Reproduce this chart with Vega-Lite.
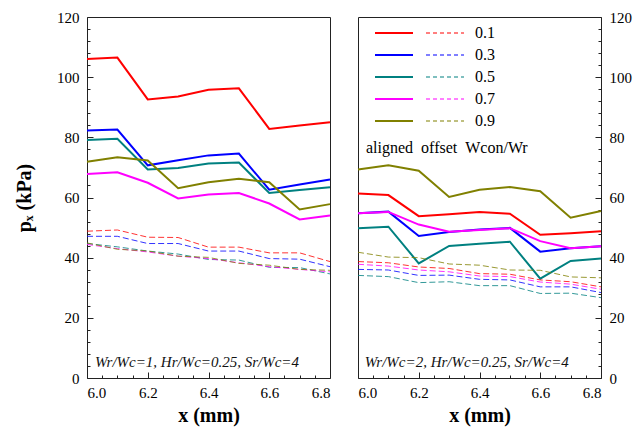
{
"$schema": "https://vega.github.io/schema/vega-lite/v6.json",
"padding": {"left": 14, "top": 9, "right": 5, "bottom": 5},
"background": "white",
"config": {
  "font": "Liberation Serif, Times New Roman, serif",
  "view": {"stroke": "#222", "strokeWidth": 1},
  "text": {"font": "Liberation Serif, Times New Roman, serif"},
  "axis": {"grid": false, "domain": false, "labelFont": "Liberation Serif, Times New Roman, serif", "labelFontSize": 15, "labelColor": "black", "tickColor": "#222", "titleFont": "Liberation Serif, Times New Roman, serif", "titleFontSize": 20, "titleFontWeight": "bold", "titleColor": "black"},
  "legend": {"orient": "none", "legendX": 279, "legendY": 8, "direction": "vertical", "titleOrient": "bottom", "titleAnchor": "start", "titleFont": "Liberation Serif, Times New Roman, serif", "titleFontSize": 16, "titleFontWeight": "normal", "titleColor": "black", "titlePadding": 11, "titleLimit": 300, "labelFont": "Liberation Serif, Times New Roman, serif", "labelFontSize": 16, "labelColor": "black", "labelOffset": 92, "symbolOffset": 1, "symbolSize": 4, "symbolStrokeWidth": 0, "symbolType": "M0,-1H38V1H0Z M51,-0.5H55V0.5H51Z M58,-0.5H62V0.5H58Z M65,-0.5H69V0.5H65Z M72,-0.5H76V0.5H72Z M79,-0.5H83V0.5H79Z M86,-0.5H89V0.5H86Z", "rowPadding": 6}
},
"datasets": {"main": [
{"g":"L","t":"a","w":"0.1","x":6.0,"p":106.0},{"g":"L","t":"a","w":"0.1","x":6.1,"p":106.5},{"g":"L","t":"a","w":"0.1","x":6.2,"p":92.6},{"g":"L","t":"a","w":"0.1","x":6.3,"p":93.6},{"g":"L","t":"a","w":"0.1","x":6.4,"p":95.8},{"g":"L","t":"a","w":"0.1","x":6.5,"p":96.3},{"g":"L","t":"a","w":"0.1","x":6.6,"p":82.8},{"g":"L","t":"a","w":"0.1","x":6.7,"p":83.9},{"g":"L","t":"a","w":"0.1","x":6.8,"p":85.0},
{"g":"L","t":"a","w":"0.3","x":6.0,"p":82.3},{"g":"L","t":"a","w":"0.3","x":6.1,"p":82.6},{"g":"L","t":"a","w":"0.3","x":6.2,"p":70.7},{"g":"L","t":"a","w":"0.3","x":6.3,"p":72.4},{"g":"L","t":"a","w":"0.3","x":6.4,"p":74.0},{"g":"L","t":"a","w":"0.3","x":6.5,"p":74.6},{"g":"L","t":"a","w":"0.3","x":6.6,"p":62.6},{"g":"L","t":"a","w":"0.3","x":6.7,"p":64.3},{"g":"L","t":"a","w":"0.3","x":6.8,"p":66.0},
{"g":"L","t":"a","w":"0.5","x":6.0,"p":79.1},{"g":"L","t":"a","w":"0.5","x":6.1,"p":79.5},{"g":"L","t":"a","w":"0.5","x":6.2,"p":69.3},{"g":"L","t":"a","w":"0.5","x":6.3,"p":69.8},{"g":"L","t":"a","w":"0.5","x":6.4,"p":71.3},{"g":"L","t":"a","w":"0.5","x":6.5,"p":71.6},{"g":"L","t":"a","w":"0.5","x":6.6,"p":61.5},{"g":"L","t":"a","w":"0.5","x":6.7,"p":62.5},{"g":"L","t":"a","w":"0.5","x":6.8,"p":63.4},
{"g":"L","t":"a","w":"0.7","x":6.0,"p":67.8},{"g":"L","t":"a","w":"0.7","x":6.1,"p":68.4},{"g":"L","t":"a","w":"0.7","x":6.2,"p":64.9},{"g":"L","t":"a","w":"0.7","x":6.3,"p":59.7},{"g":"L","t":"a","w":"0.7","x":6.4,"p":61.0},{"g":"L","t":"a","w":"0.7","x":6.5,"p":61.5},{"g":"L","t":"a","w":"0.7","x":6.6,"p":58.0},{"g":"L","t":"a","w":"0.7","x":6.7,"p":52.7},{"g":"L","t":"a","w":"0.7","x":6.8,"p":54.0},
{"g":"L","t":"a","w":"0.9","x":6.0,"p":71.9},{"g":"L","t":"a","w":"0.9","x":6.1,"p":73.4},{"g":"L","t":"a","w":"0.9","x":6.2,"p":72.3},{"g":"L","t":"a","w":"0.9","x":6.3,"p":63.1},{"g":"L","t":"a","w":"0.9","x":6.4,"p":65.1},{"g":"L","t":"a","w":"0.9","x":6.5,"p":66.2},{"g":"L","t":"a","w":"0.9","x":6.6,"p":65.1},{"g":"L","t":"a","w":"0.9","x":6.7,"p":56.0},{"g":"L","t":"a","w":"0.9","x":6.8,"p":57.8},
{"g":"L","t":"o","w":"0.1","x":6.0,"p":48.8},{"g":"L","t":"o","w":"0.1","x":6.1,"p":49.2},{"g":"L","t":"o","w":"0.1","x":6.2,"p":46.8},{"g":"L","t":"o","w":"0.1","x":6.3,"p":46.7},{"g":"L","t":"o","w":"0.1","x":6.4,"p":43.5},{"g":"L","t":"o","w":"0.1","x":6.5,"p":43.5},{"g":"L","t":"o","w":"0.1","x":6.6,"p":41.6},{"g":"L","t":"o","w":"0.1","x":6.7,"p":41.6},{"g":"L","t":"o","w":"0.1","x":6.8,"p":38.7},
{"g":"L","t":"o","w":"0.3","x":6.0,"p":47.1},{"g":"L","t":"o","w":"0.3","x":6.1,"p":47.1},{"g":"L","t":"o","w":"0.3","x":6.2,"p":44.7},{"g":"L","t":"o","w":"0.3","x":6.3,"p":44.7},{"g":"L","t":"o","w":"0.3","x":6.4,"p":42.2},{"g":"L","t":"o","w":"0.3","x":6.5,"p":42.2},{"g":"L","t":"o","w":"0.3","x":6.6,"p":39.7},{"g":"L","t":"o","w":"0.3","x":6.7,"p":39.5},{"g":"L","t":"o","w":"0.3","x":6.8,"p":37.0},
{"g":"L","t":"o","w":"0.5","x":6.0,"p":44.7},{"g":"L","t":"o","w":"0.5","x":6.1,"p":43.6},{"g":"L","t":"o","w":"0.5","x":6.2,"p":42.2},{"g":"L","t":"o","w":"0.5","x":6.3,"p":41.2},{"g":"L","t":"o","w":"0.5","x":6.4,"p":39.4},{"g":"L","t":"o","w":"0.5","x":6.5,"p":39.2},{"g":"L","t":"o","w":"0.5","x":6.6,"p":36.8},{"g":"L","t":"o","w":"0.5","x":6.7,"p":36.7},{"g":"L","t":"o","w":"0.5","x":6.8,"p":34.6},
{"g":"L","t":"o","w":"0.7","x":6.0,"p":44.4},{"g":"L","t":"o","w":"0.7","x":6.1,"p":43.0},{"g":"L","t":"o","w":"0.7","x":6.2,"p":41.9},{"g":"L","t":"o","w":"0.7","x":6.3,"p":40.5},{"g":"L","t":"o","w":"0.7","x":6.4,"p":39.7},{"g":"L","t":"o","w":"0.7","x":6.5,"p":38.3},{"g":"L","t":"o","w":"0.7","x":6.6,"p":37.0},{"g":"L","t":"o","w":"0.7","x":6.7,"p":36.1},{"g":"L","t":"o","w":"0.7","x":6.8,"p":35.3},
{"g":"L","t":"o","w":"0.9","x":6.0,"p":44.9},{"g":"L","t":"o","w":"0.9","x":6.1,"p":42.8},{"g":"L","t":"o","w":"0.9","x":6.2,"p":42.2},{"g":"L","t":"o","w":"0.9","x":6.3,"p":40.5},{"g":"L","t":"o","w":"0.9","x":6.4,"p":40.1},{"g":"L","t":"o","w":"0.9","x":6.5,"p":38.1},{"g":"L","t":"o","w":"0.9","x":6.6,"p":37.5},{"g":"L","t":"o","w":"0.9","x":6.7,"p":36.1},{"g":"L","t":"o","w":"0.9","x":6.8,"p":35.8},
{"g":"R","t":"a","w":"0.1","x":6.0,"p":61.3},{"g":"R","t":"a","w":"0.1","x":6.1,"p":60.8},{"g":"R","t":"a","w":"0.1","x":6.2,"p":53.8},{"g":"R","t":"a","w":"0.1","x":6.3,"p":54.4},{"g":"R","t":"a","w":"0.1","x":6.4,"p":55.2},{"g":"R","t":"a","w":"0.1","x":6.5,"p":54.6},{"g":"R","t":"a","w":"0.1","x":6.6,"p":47.6},{"g":"R","t":"a","w":"0.1","x":6.7,"p":48.1},{"g":"R","t":"a","w":"0.1","x":6.8,"p":48.8},
{"g":"R","t":"a","w":"0.3","x":6.0,"p":54.8},{"g":"R","t":"a","w":"0.3","x":6.1,"p":55.3},{"g":"R","t":"a","w":"0.3","x":6.2,"p":47.2},{"g":"R","t":"a","w":"0.3","x":6.3,"p":48.5},{"g":"R","t":"a","w":"0.3","x":6.4,"p":49.4},{"g":"R","t":"a","w":"0.3","x":6.5,"p":49.9},{"g":"R","t":"a","w":"0.3","x":6.6,"p":42.0},{"g":"R","t":"a","w":"0.3","x":6.7,"p":43.1},{"g":"R","t":"a","w":"0.3","x":6.8,"p":43.8},
{"g":"R","t":"a","w":"0.5","x":6.0,"p":49.8},{"g":"R","t":"a","w":"0.5","x":6.1,"p":50.3},{"g":"R","t":"a","w":"0.5","x":6.2,"p":38.1},{"g":"R","t":"a","w":"0.5","x":6.3,"p":43.9},{"g":"R","t":"a","w":"0.5","x":6.4,"p":44.6},{"g":"R","t":"a","w":"0.5","x":6.5,"p":45.3},{"g":"R","t":"a","w":"0.5","x":6.6,"p":33.0},{"g":"R","t":"a","w":"0.5","x":6.7,"p":38.9},{"g":"R","t":"a","w":"0.5","x":6.8,"p":39.7},
{"g":"R","t":"a","w":"0.7","x":6.0,"p":54.8},{"g":"R","t":"a","w":"0.7","x":6.1,"p":55.2},{"g":"R","t":"a","w":"0.7","x":6.2,"p":51.0},{"g":"R","t":"a","w":"0.7","x":6.3,"p":48.6},{"g":"R","t":"a","w":"0.7","x":6.4,"p":49.2},{"g":"R","t":"a","w":"0.7","x":6.5,"p":49.8},{"g":"R","t":"a","w":"0.7","x":6.6,"p":45.5},{"g":"R","t":"a","w":"0.7","x":6.7,"p":43.1},{"g":"R","t":"a","w":"0.7","x":6.8,"p":43.8},
{"g":"R","t":"a","w":"0.9","x":6.0,"p":69.3},{"g":"R","t":"a","w":"0.9","x":6.1,"p":70.7},{"g":"R","t":"a","w":"0.9","x":6.2,"p":68.9},{"g":"R","t":"a","w":"0.9","x":6.3,"p":60.2},{"g":"R","t":"a","w":"0.9","x":6.4,"p":62.6},{"g":"R","t":"a","w":"0.9","x":6.5,"p":63.5},{"g":"R","t":"a","w":"0.9","x":6.6,"p":62.1},{"g":"R","t":"a","w":"0.9","x":6.7,"p":53.3},{"g":"R","t":"a","w":"0.9","x":6.8,"p":55.5},
{"g":"R","t":"o","w":"0.1","x":6.0,"p":38.7},{"g":"R","t":"o","w":"0.1","x":6.1,"p":38.3},{"g":"R","t":"o","w":"0.1","x":6.2,"p":36.9},{"g":"R","t":"o","w":"0.1","x":6.3,"p":36.4},{"g":"R","t":"o","w":"0.1","x":6.4,"p":34.7},{"g":"R","t":"o","w":"0.1","x":6.5,"p":34.5},{"g":"R","t":"o","w":"0.1","x":6.6,"p":32.6},{"g":"R","t":"o","w":"0.1","x":6.7,"p":32.0},{"g":"R","t":"o","w":"0.1","x":6.8,"p":30.3},
{"g":"R","t":"o","w":"0.3","x":6.0,"p":36.1},{"g":"R","t":"o","w":"0.3","x":6.1,"p":35.9},{"g":"R","t":"o","w":"0.3","x":6.2,"p":34.1},{"g":"R","t":"o","w":"0.3","x":6.3,"p":34.2},{"g":"R","t":"o","w":"0.3","x":6.4,"p":32.8},{"g":"R","t":"o","w":"0.3","x":6.5,"p":32.6},{"g":"R","t":"o","w":"0.3","x":6.6,"p":30.3},{"g":"R","t":"o","w":"0.3","x":6.7,"p":30.3},{"g":"R","t":"o","w":"0.3","x":6.8,"p":28.4},
{"g":"R","t":"o","w":"0.5","x":6.0,"p":34.1},{"g":"R","t":"o","w":"0.5","x":6.1,"p":33.7},{"g":"R","t":"o","w":"0.5","x":6.2,"p":31.7},{"g":"R","t":"o","w":"0.5","x":6.3,"p":32.0},{"g":"R","t":"o","w":"0.5","x":6.4,"p":30.7},{"g":"R","t":"o","w":"0.5","x":6.5,"p":30.7},{"g":"R","t":"o","w":"0.5","x":6.6,"p":28.1},{"g":"R","t":"o","w":"0.5","x":6.7,"p":28.2},{"g":"R","t":"o","w":"0.5","x":6.8,"p":26.7},
{"g":"R","t":"o","w":"0.7","x":6.0,"p":37.8},{"g":"R","t":"o","w":"0.7","x":6.1,"p":37.2},{"g":"R","t":"o","w":"0.7","x":6.2,"p":35.9},{"g":"R","t":"o","w":"0.7","x":6.3,"p":35.3},{"g":"R","t":"o","w":"0.7","x":6.4,"p":33.9},{"g":"R","t":"o","w":"0.7","x":6.5,"p":33.7},{"g":"R","t":"o","w":"0.7","x":6.6,"p":31.9},{"g":"R","t":"o","w":"0.7","x":6.7,"p":31.2},{"g":"R","t":"o","w":"0.7","x":6.8,"p":29.5},
{"g":"R","t":"o","w":"0.9","x":6.0,"p":41.8},{"g":"R","t":"o","w":"0.9","x":6.1,"p":40.2},{"g":"R","t":"o","w":"0.9","x":6.2,"p":40.0},{"g":"R","t":"o","w":"0.9","x":6.3,"p":37.9},{"g":"R","t":"o","w":"0.9","x":6.4,"p":37.5},{"g":"R","t":"o","w":"0.9","x":6.5,"p":35.9},{"g":"R","t":"o","w":"0.9","x":6.6,"p":35.8},{"g":"R","t":"o","w":"0.9","x":6.7,"p":33.6},{"g":"R","t":"o","w":"0.9","x":6.8,"p":33.3}
]},
"data": {"name": "main"},
"spacing": 18,
"hconcat": [
 {
  "width": 243, "height": 361,
  "layer": [
   {"transform": [{"filter": "datum.g=='L' && datum.t=='a'"}],
    "mark": {"type": "line", "strokeWidth": 2},
    "encoding": {
     "x": {"field": "x", "type": "quantitative", "scale": {"domain": [6, 6.8], "nice": false, "zero": false}, "axis": {"orient": "bottom", "ticks": false, "values": [6.0, 6.2, 6.4, 6.6, 6.8], "format": ".1f", "labelPadding": 7, "title": "x (mm)", "titlePadding": 5}},
     "y": {"field": "p", "type": "quantitative", "scale": {"domain": [0, 120], "nice": false}, "axis": {"orient": "left", "ticks": false, "values": [0, 20, 40, 60, 80, 100, 120], "labelPadding": 8, "title": "pₓ (kPa)", "titlePadding": 22}},
     "color": {"field": "w", "type": "nominal", "scale": {"domain": ["0.1", "0.3", "0.5", "0.7", "0.9"], "range": ["#ff0000", "#0000ff", "#008080", "#ff00ff", "#808000"]}, "legend": {"title": "aligned\u00a0\u00a0offset\u00a0\u00a0Wcon/Wr", "encode": {"symbols": {"update": {"fill": {"scale": "color", "field": "value"}, "fillOpacity": {"value": 1}}}}}}
    }},
   {"transform": [{"filter": "datum.g=='L' && datum.t=='o'"}],
    "mark": {"type": "line", "strokeWidth": 1, "strokeDash": [6, 3], "opacity": 0.8},
    "encoding": {
     "x": {"field": "x", "type": "quantitative", "axis": {"orient": "bottom", "labels": false, "tickSize": -6, "values": [6.0, 6.2, 6.4, 6.6, 6.8], "title": null}},
     "y": {"field": "p", "type": "quantitative", "axis": {"orient": "left", "labels": false, "tickSize": -6, "values": [0, 20, 40, 60, 80, 100, 120], "title": null}},
     "color": {"field": "w", "type": "nominal", "legend": {"title": "aligned\u00a0\u00a0offset\u00a0\u00a0Wcon/Wr"}}
    }},
   {"data": {"values": [{}]},
    "mark": {"type": "text", "align": "left", "baseline": "alphabetic", "font": "Liberation Serif, Times New Roman, serif", "fontStyle": "italic", "fontSize": 15, "color": "#111"},
    "encoding": {
     "x": {"datum": 6.026, "type": "quantitative", "axis": {"orient": "bottom", "labels": false, "tickSize": -3, "values": [6.05, 6.1, 6.15, 6.25, 6.3, 6.35, 6.45, 6.5, 6.55, 6.65, 6.7, 6.75], "title": null}},
     "y": {"datum": 3.7, "type": "quantitative", "axis": {"orient": "left", "labels": false, "tickSize": -3, "values": [4, 8, 12, 16, 24, 28, 32, 36, 44, 48, 52, 56, 64, 68, 72, 76, 84, 88, 92, 96, 104, 108, 112, 116], "title": null}},
     "text": {"value": "Wr/Wc=1, Hr/Wc=0.25, Sr/Wc=4"}
    }}
  ],
  "resolve": {"axis": {"x": "independent", "y": "independent"}}
 },
 {
  "width": 243, "height": 361,
  "layer": [
   {"transform": [{"filter": "datum.g=='R' && datum.t=='a'"}],
    "mark": {"type": "line", "strokeWidth": 2},
    "encoding": {
     "x": {"field": "x", "type": "quantitative", "scale": {"domain": [6, 6.8], "nice": false, "zero": false}, "axis": {"orient": "bottom", "ticks": false, "values": [6.0, 6.2, 6.4, 6.6, 6.8], "format": ".1f", "labelPadding": 7, "title": "x (mm)", "titlePadding": 5}},
     "y": {"field": "p", "type": "quantitative", "scale": {"domain": [0, 120], "nice": false}, "axis": {"orient": "right", "ticks": false, "values": [0, 20, 40, 60, 80, 100, 120], "labelPadding": 8, "title": null}},
     "color": {"field": "w", "type": "nominal", "legend": {"title": "aligned\u00a0\u00a0offset\u00a0\u00a0Wcon/Wr"}}
    }},
   {"transform": [{"filter": "datum.g=='R' && datum.t=='o'"}],
    "mark": {"type": "line", "strokeWidth": 1, "strokeDash": [6, 3], "opacity": 0.8},
    "encoding": {
     "x": {"field": "x", "type": "quantitative", "axis": {"orient": "bottom", "labels": false, "tickSize": -6, "values": [6.0, 6.2, 6.4, 6.6, 6.8], "title": null}},
     "y": {"field": "p", "type": "quantitative", "axis": {"orient": "right", "labels": false, "tickSize": -6, "values": [0, 20, 40, 60, 80, 100, 120], "title": null}},
     "color": {"field": "w", "type": "nominal", "legend": {"title": "aligned\u00a0\u00a0offset\u00a0\u00a0Wcon/Wr"}}
    }},
   {"data": {"values": [{}]},
    "mark": {"type": "text", "align": "left", "baseline": "alphabetic", "font": "Liberation Serif, Times New Roman, serif", "fontStyle": "italic", "fontSize": 15, "color": "#111"},
    "encoding": {
     "x": {"datum": 6.022, "type": "quantitative", "axis": {"orient": "bottom", "labels": false, "tickSize": -3, "values": [6.05, 6.1, 6.15, 6.25, 6.3, 6.35, 6.45, 6.5, 6.55, 6.65, 6.7, 6.75], "title": null}},
     "y": {"datum": 3.7, "type": "quantitative", "axis": {"orient": "right", "labels": false, "tickSize": -3, "values": [4, 8, 12, 16, 24, 28, 32, 36, 44, 48, 52, 56, 64, 68, 72, 76, 84, 88, 92, 96, 104, 108, 112, 116], "title": null}},
     "text": {"value": "Wr/Wc=2, Hr/Wc=0.25, Sr/Wc=4"}
    }}
  ],
  "resolve": {"axis": {"x": "independent", "y": "independent"}}
 }
]
}
